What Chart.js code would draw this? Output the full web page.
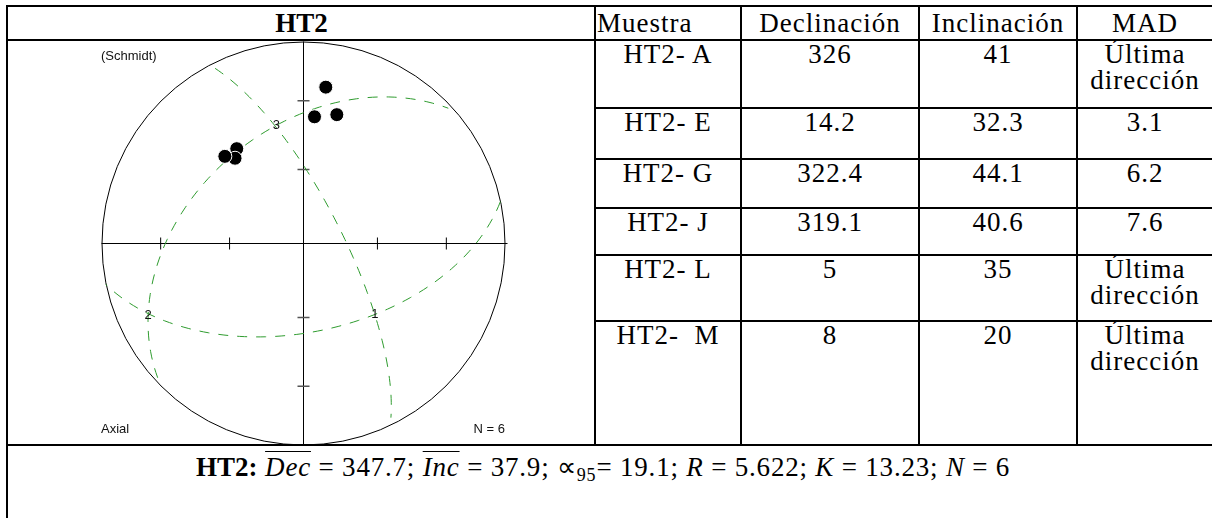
<!DOCTYPE html>
<html>
<head>
<meta charset="utf-8">
<script src="https://cdn.jsdelivr.net/npm/chart.js@4.4.1/dist/chart.umd.min.js"></script>
<style>
  body { margin: 0; background: #fff; width: 1212px; height: 518px; overflow: hidden; position: relative; font-family: "Liberation Serif", serif; color: #000; }
  .ln { position: absolute; background: #000; }
  .cell { position: absolute; font-size: 27px; line-height: 26px; letter-spacing: 1px; text-align: center; white-space: pre; }
  #plot { position: absolute; left: 8px; top: 41px; }
  #formula { position: absolute; left: 196px; top: 452px; font-size: 27px; line-height: 30px; letter-spacing: 0.8px; white-space: nowrap; }
  #formula .ov { text-decoration: overline; text-decoration-thickness: 1px; }
  #formula sub { font-size: 18px; vertical-align: -5px; line-height: 0; }
</style>
</head>
<body>
<div id="table"></div>
<canvas id="plot" width="586" height="404"></canvas>
<div id="formula"></div>
<script>
// site and sample directions
const site = "HT2";
const headers = ["Muestra", "Declinación", "Inclinación", "MAD"];
const samples = ["HT2- A", "HT2- E", "HT2- G", "HT2- J", "HT2- L", "HT2-  M"];
const declinations = [326, 14.2, 322.4, 319.1, 5, 8];
const inclinations = [41, 32.3, 44.1, 40.6, 35, 20];
const mads = ["Última\ndirección", "3.1", "6.2", "7.6", "Última\ndirección", "Última\ndirección"];

// principal axes (axial mode) and their great circles
const axisLabels = ["1", "2", "3"];
const axisDec = [136, 244.2, 347.7];
const axisInc = [47.5, 15.9, 37.9];

// net ticks at these inclinations
const tickInc = [60, 30];

// Fisher statistics
const meanDec = 347.7, meanInc = 37.9, a95 = 19.1, resultant = 5.622, kappa = 13.23, nSamples = 6;

// ---- table layout ----
const colX = [595, 741, 919, 1077, 1213];
const rowY = [40, 108, 159, 208, 255, 321, 445];
const tbl = document.getElementById("table");

function line(x, y, w, h) {
  const d = document.createElement("div");
  d.className = "ln";
  d.style.cssText = `left:${x}px;top:${y}px;width:${w}px;height:${h}px`;
  tbl.appendChild(d);
}
function cell(text, x, w, top, opts = {}) {
  const d = document.createElement("div");
  d.className = "cell";
  d.textContent = text;
  d.style.left = x + "px";
  d.style.width = w + "px";
  d.style.top = top + "px";
  if (opts.bold) { d.style.fontWeight = "bold"; d.style.letterSpacing = "0"; }
  if (opts.left) d.style.textAlign = "left";
  tbl.appendChild(d);
}

line(6, 5, 1206, 2);
line(6, 39, 1206, 2);
line(6, 444, 1206, 2);
line(6, 5, 2, 513);
colX.slice(0, 4).forEach(x => line(x - 1, 5, 2, 441));
rowY.slice(1, 6).forEach(y => line(595, y - 1, 617, 2));

cell(site, 8, 587, 10, { bold: true });
headers.forEach((h, i) => {
  if (i === 0) cell(h, colX[0] + 2, colX[1] - colX[0], 10, { left: true });
  else cell(h, colX[i], colX[i + 1] - colX[i], 10);
});
samples.forEach((s, r) => {
  const top = rowY[r] + 1;
  const vals = [s, String(declinations[r]), String(inclinations[r]), mads[r]];
  vals.forEach((v, c) => cell(v, colX[c], colX[c + 1] - colX[c], top));
});

document.getElementById("formula").innerHTML =
  `<b style="letter-spacing:0">${site}:</b> <i class="ov">Dec</i> = ${meanDec}; <i class="ov">Inc</i> = ${meanInc}; ∝<sub>95</sub>= ${a95}; <i>R</i> = ${resultant}; <i>K</i> = ${kappa}; <i>N</i> = ${nSamples}`;

// ---- equal-area (Schmidt) projection ----
const rad = Math.PI / 180;
function project(dec, inc) {
  const r = Math.SQRT2 * Math.sin((90 - inc) / 2 * rad);
  return { x: r * Math.sin(dec * rad), y: r * Math.cos(dec * rad) };
}

// lower-hemisphere half of the plane whose pole is (dec, inc)
function greatCircle(dec, inc) {
  const D = dec * rad, I = inc * rad;
  const s = [-Math.sin(D), Math.cos(D), 0];
  const q = [-Math.sin(I) * Math.cos(D), -Math.sin(I) * Math.sin(D), Math.cos(I)];
  const pts = [];
  for (let t = 0; t <= 180; t += 2) {
    const c = Math.cos(t * rad), sn = Math.sin(t * rad);
    const v = [c * s[0] + sn * q[0], c * s[1] + sn * q[1], c * s[2] + sn * q[2]];
    const vInc = Math.asin(Math.max(-1, Math.min(1, v[2]))) / rad;
    const vDec = Math.atan2(v[1], v[0]) / rad;
    pts.push(project(vDec, vInc));
  }
  return pts;
}

const sitePoints = declinations.map((d, i) => project(d, inclinations[i]));
const circles = axisDec.map((d, i) => greatCircle(d, axisInc[i]));

const stereoNet = {
  id: "stereoNet",
  beforeDatasetsDraw(chart) {
    const { ctx, scales: { x, y } } = chart;
    const cx = Math.round(x.getPixelForValue(0)) + 0.5;
    const cy = Math.round(y.getPixelForValue(0)) + 0.5;
    const R = x.getPixelForValue(1) - x.getPixelForValue(0);
    ctx.save();
    ctx.strokeStyle = "#000";
    ctx.lineWidth = 1;
    ctx.beginPath();
    ctx.arc(cx, cy, R - 0.5, 0, Math.PI * 2);
    ctx.stroke();
    ctx.beginPath();
    ctx.moveTo(cx - R, cy); ctx.lineTo(cx + R + 2, cy);
    ctx.moveTo(cx, cy - R); ctx.lineTo(cx, cy + R);
    ctx.stroke();
    tickInc.forEach(inc => {
      const r = project(0, inc).y * R;
      ctx.strokeStyle = "#000";
      ctx.lineWidth = 1;
      ctx.beginPath();
      [-1, 1].forEach(sg => { ctx.moveTo(cx + sg * r, cy - 6); ctx.lineTo(cx + sg * r, cy + 6); });
      ctx.stroke();
      ctx.strokeStyle = "#555";
      ctx.lineWidth = 1.5;
      ctx.beginPath();
      [-1, 1].forEach(sg => { ctx.moveTo(cx - 6, cy + sg * r); ctx.lineTo(cx + 6, cy + sg * r); });
      ctx.stroke();
    });
    ctx.restore();
  },
  afterDatasetsDraw(chart) {
    const { ctx, scales: { x, y } } = chart;
    ctx.save();
    ctx.fillStyle = "#111";
    ctx.font = '13px "Liberation Sans", Arial, sans-serif';
    ctx.textAlign = "center";
    ctx.textBaseline = "middle";
    axisLabels.forEach((lab, i) => {
      const p = project(axisDec[i], axisInc[i]);
      ctx.fillText(lab, x.getPixelForValue(p.x), y.getPixelForValue(p.y));
    });
    ctx.textBaseline = "alphabetic";
    ctx.textAlign = "left";
    ctx.fillText("(Schmidt)", x.getPixelForValue(-1), y.getPixelForValue(1) + 11);
    ctx.fillText("Axial", x.getPixelForValue(-1), y.getPixelForValue(-1) - 4);
    ctx.textAlign = "right";
    ctx.fillText("N = " + nSamples, x.getPixelForValue(1), y.getPixelForValue(-1) - 4);
    ctx.restore();
  }
};

new Chart(document.getElementById("plot"), {
  type: "scatter",
  data: {
    datasets: [
      {
        data: sitePoints,
        pointRadius: 7,
        pointBackgroundColor: "#000",
        pointBorderColor: "#fff",
        pointBorderWidth: 1,
        clip: false
      },
      ...circles.map(pts => ({
        data: pts,
        showLine: true,
        borderColor: "#2e9b2e",
        borderWidth: 1,
        borderDash: [10, 9],
        pointRadius: 0,
        tension: 0,
        clip: false
      }))
    ]
  },
  options: {
    responsive: false,
    animation: false,
    devicePixelRatio: 1,
    layout: { padding: { left: 93, right: 89, top: 0, bottom: 0 } },
    scales: {
      x: { type: "linear", min: -1, max: 1, display: false },
      y: { type: "linear", min: -1, max: 1, display: false }
    },
    plugins: { legend: { display: false }, tooltip: { enabled: false } },
    events: []
  },
  plugins: [stereoNet]
});
</script>
</body>
</html>
